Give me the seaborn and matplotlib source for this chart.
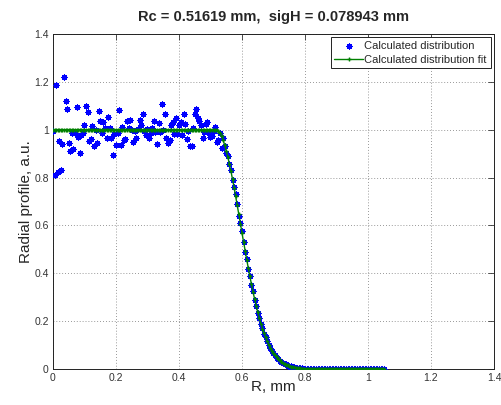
import numpy as np
import pandas as pd
import matplotlib
matplotlib.use("Agg")
import matplotlib.pyplot as plt
import seaborn as sns

# ---------------- data ----------------
r_start = 0.0
r_step = 0.005
n_points = 211
radius = np.round(r_start + r_step * np.arange(n_points), 3)

measured = [
    0.995, 0.809, 1.186, 0.824, 0.953, 0.830, 0.939, 1.222, 1.120, 1.085,
    0.943, 0.911, 0.988, 0.918, 0.988, 1.093, 0.970, 0.904, 0.978, 0.988,
    1.020, 1.099, 1.072, 0.953, 0.960, 1.016, 0.932, 0.997, 0.946, 1.078,
    1.037, 0.985, 1.032, 1.006, 0.964, 1.055, 1.006, 0.967, 0.894, 0.981,
    0.935, 0.988, 1.083, 0.936, 1.013, 0.956, 0.960, 1.037, 1.009, 1.039,
    0.998, 0.950, 0.995, 0.967, 1.002, 1.039, 1.020, 1.065, 0.995, 0.980,
    1.002, 0.964, 0.985, 1.009, 1.037, 0.992, 0.942, 1.027, 0.992, 1.109,
    1.000, 1.067, 0.964, 0.946, 0.956, 1.020, 1.034, 0.981, 1.048, 0.981,
    1.018, 1.034, 0.978, 1.067, 1.025, 0.960, 0.995, 0.932, 0.932, 1.006,
    1.065, 1.088, 1.051, 1.037, 1.020, 0.964, 0.990, 1.025, 1.034, 0.985,
    0.970, 0.974, 0.995, 1.013, 0.950, 0.956, 0.985, 0.925, 0.967, 0.930,
    0.904, 0.890, 0.858, 0.830, 0.790, 0.760, 0.730, 0.690, 0.640, 0.610,
    0.575, 0.530, 0.490, 0.460, 0.420, 0.390, 0.350, 0.325, 0.290, 0.265,
    0.235, 0.215, 0.190, 0.170, 0.148, 0.133, 0.116, 0.100, 0.088, 0.077,
    0.066, 0.058, 0.048, 0.043, 0.035, 0.031, 0.025, 0.022, 0.019, 0.014,
    0.013, 0.011, 0.008, 0.007, 0.006, 0.005, 0.004, 0.003, 0.003, 0.002,
    0.002, 0.001, 0.002, 0.001, 0.000, 0.001, 0.002, 0.000, 0.001, 0.001,
    0.000, 0.002, 0.001, 0.000, 0.001, 0.000, 0.001, 0.002, 0.000, 0.001,
    0.000, 0.001, 0.000, 0.002, 0.001, 0.000, 0.001, 0.000, 0.001, 0.000,
    0.002, 0.001, 0.000, 0.001, 0.000, 0.001, 0.000, 0.001, 0.002, 0.000,
    0.001, 0.000, 0.001, 0.000, 0.001, 0.000, 0.001, 0.000, 0.001, 0.000,
    0.001,
]

fitted = [
    1.0, 1.0, 1.0, 1.0, 1.0, 1.0, 1.0, 1.0, 1.0, 1.0,
    1.0, 1.0, 1.0, 1.0, 1.0, 1.0, 1.0, 1.0, 1.0, 1.0,
    1.0, 1.0, 1.0, 1.0, 1.0, 1.0, 1.0, 1.0, 1.0, 1.0,
    1.0, 1.0, 1.0, 1.0, 1.0, 1.0, 1.0, 1.0, 1.0, 1.0,
    1.0, 1.0, 1.0, 1.0, 1.0, 1.0, 1.0, 1.0, 1.0, 1.0,
    1.0, 1.0, 1.0, 1.0, 1.0, 1.0, 1.0, 1.0, 1.0, 1.0,
    1.0, 1.0, 1.0, 1.0, 1.0, 1.0, 1.0, 1.0, 1.0, 1.0,
    1.0, 1.0, 1.0, 1.0, 1.0, 1.0, 1.0, 1.0, 1.0, 1.0,
    1.0, 1.0, 1.0, 1.0, 1.0, 1.0, 1.0, 1.0, 1.0, 1.0,
    1.0, 1.0, 1.0, 1.0, 1.0, 1.0, 1.0, 1.0, 1.0, 1.0,
    1.0, 1.0, 1.0, 1.0, 0.999, 0.994, 0.985, 0.972, 0.956, 0.936,
    0.912, 0.886, 0.857, 0.826, 0.793, 0.758, 0.721, 0.684, 0.646, 0.608,
    0.568, 0.531, 0.494, 0.457, 0.421, 0.387, 0.354, 0.322, 0.292, 0.264,
    0.237, 0.213, 0.190, 0.169, 0.150, 0.132, 0.116, 0.101, 0.089, 0.077,
    0.066, 0.057, 0.049, 0.042, 0.036, 0.030, 0.026, 0.022, 0.018, 0.015,
    0.013, 0.010, 0.009, 0.007, 0.006, 0.005, 0.004, 0.003, 0.002, 0.002,
    0.002, 0.001, 0.001, 0.001, 0.001, 0.0, 0.0, 0.0, 0.0, 0.0,
    0.0, 0.0, 0.0, 0.0, 0.0, 0.0, 0.0, 0.0, 0.0, 0.0,
    0.0, 0.0, 0.0, 0.0, 0.0, 0.0, 0.0, 0.0, 0.0, 0.0,
    0.0, 0.0, 0.0, 0.0, 0.0, 0.0, 0.0, 0.0, 0.0, 0.0,
    0.0, 0.0, 0.0, 0.0, 0.0, 0.0, 0.0, 0.0, 0.0, 0.0,
    0.0,
]

x_ticks = [0, 0.2, 0.4, 0.6, 0.8, 1.0, 1.2, 1.4]
x_tick_labels = ["0", "0.2", "0.4", "0.6", "0.8", "1", "1.2", "1.4"]
y_ticks = [0, 0.2, 0.4, 0.6, 0.8, 1.0, 1.2, 1.4]
y_tick_labels = ["0", "0.2", "0.4", "0.6", "0.8", "1", "1.2", "1.4"]

title_text = "Rc = 0.51619 mm,  sigH = 0.078943 mm"
x_label = "R, mm"
y_label = "Radial profile, a.u."
label_data = "Calculated distribution"
label_fit = "Calculated distribution fit"

df = pd.DataFrame({"r": radius, "measured": measured, "fitted": fitted})

# ---------------- drawing ----------------
sns.set_style("white")
plt.rcParams["font.family"] = ["Liberation Sans", "DejaVu Sans"]

blue = (0, 0, 1)
green = (0, 0.5, 0)

fig = plt.figure(figsize=(5.02, 4.05), dpi=100)
ax = fig.add_axes([53 / 502, 36 / 405, (494 - 53) / 502, (370 - 35) / 405])

sns.scatterplot(data=df, x="r", y="measured", ax=ax, marker=(8, 2, 0), s=13,
                color=blue, edgecolor=blue, linewidth=0.9,
                label=label_data, zorder=3)
sns.lineplot(data=df, x="r", y="fitted", ax=ax, color=green,
             linewidth=1.0, marker="+", markersize=3.2, markeredgewidth=1.0,
             markeredgecolor=green, markerfacecolor=green,
             label=label_fit, zorder=4, sort=False)

ax.set_xlim(0, 1.4)
ax.set_ylim(0, 1.4)
ax.set_xticks(x_ticks)
ax.set_xticklabels(x_tick_labels)
ax.set_yticks(y_ticks)
ax.set_yticklabels(y_tick_labels)
ax.tick_params(direction="in", top=True, right=True, length=4, width=0.6,
               labelsize=7.5, labelcolor="#333333", colors="#333333", pad=3)
for s in ax.spines.values():
    s.set_color("#222222")
    s.set_linewidth(0.7)
    s.set_visible(True)

ax.grid(True, linestyle=(0, (1, 2.5)), color="#777777", linewidth=0.6)
ax.set_axisbelow(True)

ax.set_xlabel(x_label, fontsize=11, labelpad=-2)
ax.set_ylabel(y_label, fontsize=11, labelpad=1)
ax.set_title(title_text, fontsize=10.5, fontweight="bold", pad=9)

leg = ax.legend(loc="upper right", fontsize=8, frameon=True, fancybox=False,
                edgecolor="#222222", framealpha=1, borderaxespad=0.3,
                handlelength=2.6, handletextpad=0.1, borderpad=0.35,
                labelspacing=0.3)
leg.get_frame().set_linewidth(0.7)

fig.savefig("out.png", dpi=100)
